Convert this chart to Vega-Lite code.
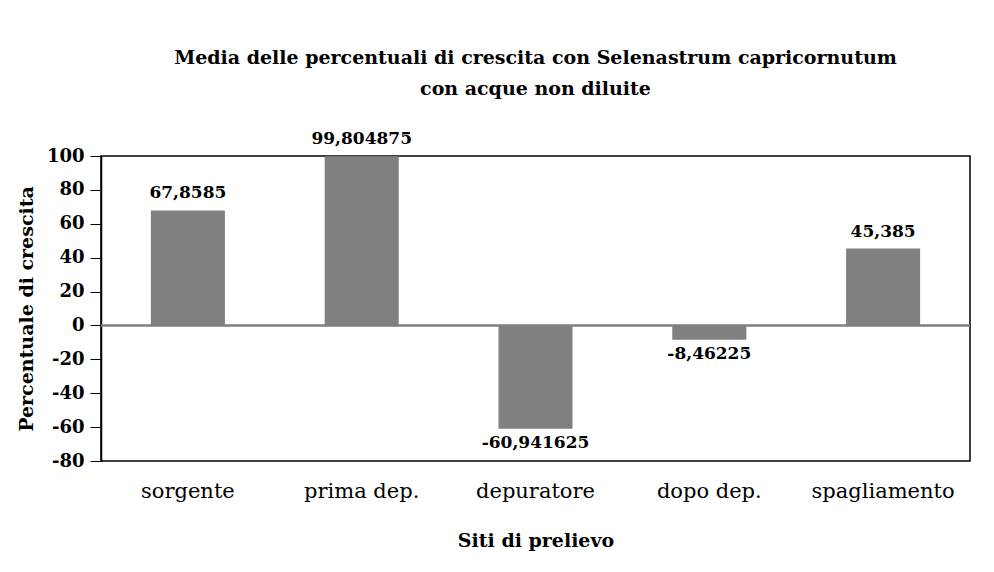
{
  "$schema": "https://vega.github.io/schema/vega-lite/v6.json",
  "autosize": {"type": "none"},
  "width": 869,
  "height": 305,
  "padding": {"left": 101, "top": 156, "right": 24, "bottom": 111},
  "background": "white",
  "config": {
    "locale": {"number": {"decimal": ",", "thousands": ".", "grouping": [3], "currency": ["", " €"], "minus": "-"}},
    "font": "DejaVu Serif",
    "title": {"font": "DejaVu Serif, serif"},
    "view": {"stroke": "black", "strokeWidth": 1.5}
  },
  "title": {
    "text": ["Media delle percentuali di crescita con Selenastrum capricornutum", "con acque non diluite"],
    "font": "DejaVu Serif, serif",
    "fontSize": 19,
    "fontWeight": "bold",
    "color": "black",
    "anchor": "middle",
    "lineHeight": 31,
    "offset": 31
  },
  "data": {
    "values": [
      {"sito": "sorgente", "v": 67.8585},
      {"sito": "prima dep.", "v": 99.804875},
      {"sito": "depuratore", "v": -60.941625},
      {"sito": "dopo dep.", "v": -8.46225},
      {"sito": "spagliamento", "v": 45.385}
    ]
  },
  "encoding": {
    "x": {
      "field": "sito", "type": "nominal", "sort": null,
      "scale": {"paddingInner": 0.574, "paddingOuter": 0.287},
      "axis": {
        "title": "Siti di prelievo", "titleFont": "DejaVu Serif", "titleFontSize": 19, "titleFontWeight": "bold", "titleColor": "black", "titlePadding": 30,
        "labelAngle": 0, "labelFont": "DejaVu Serif", "labelFontSize": 21, "labelColor": "black", "labelPadding": 19,
        "domain": false, "ticks": false
      }
    },
    "y": {
      "field": "v", "type": "quantitative",
      "scale": {"domain": [-80, 100], "nice": false, "zero": false},
      "axis": {
        "values": [-80, -60, -40, -20, 0, 20, 40, 60, 80, 100],
        "title": "Percentuale di crescita", "titleFont": "DejaVu Serif", "titleFontSize": 19, "titleFontWeight": "bold", "titleColor": "black", "titlePadding": 10,
        "labelFont": "DejaVu Serif", "labelFontSize": 18, "labelFontWeight": "bold", "labelColor": "black", "labelPadding": 6,
        "labelOverlap": false, "labelBound": false,
        "grid": false, "domainColor": "black", "domainWidth": 1.5, "tickColor": "black", "tickSize": 11, "tickWidth": 1, "format": "d"
      }
    }
  },
  "layer": [
    {
      "mark": {"type": "bar", "color": "#808080"}
    },
    {
      "mark": {"type": "rule", "color": "#808080", "strokeWidth": 1.5},
      "encoding": {"y": {"datum": 0, "type": "quantitative"}, "x": {"value": 0}, "x2": {"value": 869}}
    },
    {
      "transform": [{"filter": "datum.v >= 0"}],
      "mark": {"type": "text", "baseline": "bottom", "dy": -8, "fontSize": 17, "fontWeight": "bold", "color": "black", "font": "DejaVu Serif"},
      "encoding": {
        "text": {"field": "v", "type": "quantitative", "format": "~f"}
      }
    },
    {
      "transform": [{"filter": "datum.v < 0"}],
      "mark": {"type": "text", "baseline": "top", "dy": 6, "fontSize": 17, "fontWeight": "bold", "color": "black", "font": "DejaVu Serif"},
      "encoding": {
        "text": {"field": "v", "type": "quantitative", "format": "~f"}
      }
    }
  ]
}
